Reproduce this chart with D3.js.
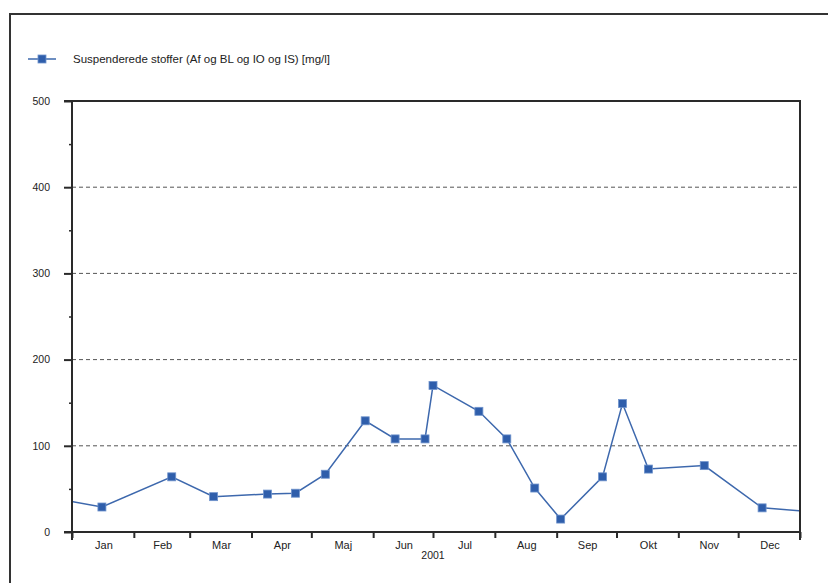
<!DOCTYPE html>
<html><head><meta charset="utf-8">
<script src="https://cdn.jsdelivr.net/npm/d3@7"></script>
<style>
body{margin:0;background:#fff;}
svg{display:block;font-family:"Liberation Sans",Arial,sans-serif;}
</style></head>
<body><svg id="c" width="828" height="583"></svg>
<script>
const seriesName = "Suspenderede stoffer (Af og BL og IO og IS) [mg/l]";
const dates = ["2000-12-18","2001-01-16","2001-02-20","2001-03-13","2001-04-09","2001-04-23","2001-05-08","2001-05-28","2001-06-12","2001-06-27","2001-07-01","2001-07-24","2001-08-07","2001-08-21","2001-09-03","2001-09-24","2001-10-04","2001-10-17","2001-11-14","2001-12-13","2002-01-10"];
const values = [41,29,64,41,44,45,67,129,108,108,170,140,108,51,15,64,149,73,77,28,23];
const monthLabels = ["Jan","Feb","Mar","Apr","Maj","Jun","Jul","Aug","Sep","Okt","Nov","Dec"];
const yearLabel = "2001";
const yTicks = [0,100,200,300,400,500];
const yMinor = [50,150,250,350,450];
const gridValues = [100,200,300,400];

const svg = d3.select("#c");
const L=72,R=800,T=101,B=532;
const x = d3.scaleUtc().domain([new Date("2001-01-01"),new Date("2002-01-01")]).range([L,R]);
const y = d3.scaleLinear().domain([0,500]).range([B,T]);
const data = dates.map((d,i)=>({date:new Date(d),v:values[i]}));
const axisCol="#2a2a2a";

// outer frame
svg.append("path").attr("d","M10,583 L10,14 L828,14").attr("fill","none").attr("stroke","#333").attr("stroke-width",2);

// legend
const lineCol="#3d68ad", markFill="#2f5eab", markStroke="#6f93cc";
svg.append("line").attr("x1",28).attr("x2",56).attr("y1",59).attr("y2",59).attr("stroke",lineCol).attr("stroke-width",1.5);
svg.append("rect").attr("x",38).attr("y",55).attr("width",8).attr("height",8).attr("fill",markFill).attr("stroke",markStroke).attr("stroke-width",0.8);
svg.append("text").attr("x",73).attr("y",63).attr("font-size",11.5).attr("fill","#222").text(seriesName);

// gridlines
svg.append("g").selectAll("line").data(gridValues).join("line")
 .attr("x1",L).attr("x2",R).attr("y1",d=>y(d)).attr("y2",d=>y(d))
 .attr("stroke","#555").attr("stroke-width",1).attr("stroke-dasharray","4,3");

// y axis
const yAxis = d3.axisLeft(y).tickValues(yTicks).tickSize(8).tickPadding(14).tickFormat(d3.format("d"));
const gy = svg.append("g").attr("transform",`translate(${L},0)`).call(yAxis);
gy.select(".domain").remove();
gy.selectAll(".tick line").attr("stroke",axisCol).attr("stroke-width",2);
gy.selectAll(".tick text").attr("font-size",10.5).attr("fill","#222").attr("font-family","Liberation Sans, Arial, sans-serif");
const gym = svg.append("g").attr("transform",`translate(${L},0)`).call(d3.axisLeft(y).tickValues(yMinor).tickSize(3).tickFormat(""));
gym.select(".domain").remove();
gym.selectAll(".tick line").attr("stroke",axisCol).attr("stroke-width",1.5);

// x axis
const monthStarts = d3.utcMonths(new Date("2001-01-01"),new Date("2002-01-02"));
const gx = svg.append("g").attr("transform",`translate(0,${B})`).call(d3.axisBottom(x).tickValues(monthStarts).tickSize(6).tickFormat(""));
gx.select(".domain").remove();
gx.selectAll(".tick line").attr("stroke",axisCol).attr("stroke-width",2);
const mids = monthStarts.slice(0,12).map((d,i)=>(x(d)+x(monthStarts[i+1]))/2);
svg.append("g").selectAll("text").data(mids).join("text")
 .attr("x",d=>d+1).attr("y",B+17).attr("text-anchor","middle").attr("font-size",11).attr("fill","#222")
 .text((d,i)=>monthLabels[i]);
svg.append("text").attr("x",x(new Date("2001-07-01"))).attr("y",B+27).attr("text-anchor","middle").attr("font-size",10.5).attr("fill","#222").text(yearLabel);

// frame of plot
svg.append("path").attr("d",`M${L-8},${T} L${R},${T} L${R},${B+8}`).attr("fill","none").attr("stroke",axisCol).attr("stroke-width",2);
svg.append("line").attr("x1",L).attr("x2",L).attr("y1",T).attr("y2",B+8).attr("stroke",axisCol).attr("stroke-width",2);
svg.append("line").attr("x1",L-8).attr("x2",R).attr("y1",B).attr("y2",B).attr("stroke",axisCol).attr("stroke-width",2);

// clip
svg.append("clipPath").attr("id","clip").append("rect").attr("x",L+1).attr("y",T).attr("width",R-L-2).attr("height",B-T);
const g = svg.append("g").attr("clip-path","url(#clip)");
g.append("path").datum(data).attr("d",d3.line().x(d=>x(d.date)).y(d=>y(d.v)))
 .attr("fill","none").attr("stroke",lineCol).attr("stroke-width",1.5);
g.selectAll("rect").data(data).join("rect")
 .attr("x",d=>x(d.date)-4).attr("y",d=>y(d.v)-4).attr("width",8).attr("height",8)
 .attr("fill",markFill).attr("stroke",markStroke).attr("stroke-width",0.8);
</script></body></html>
